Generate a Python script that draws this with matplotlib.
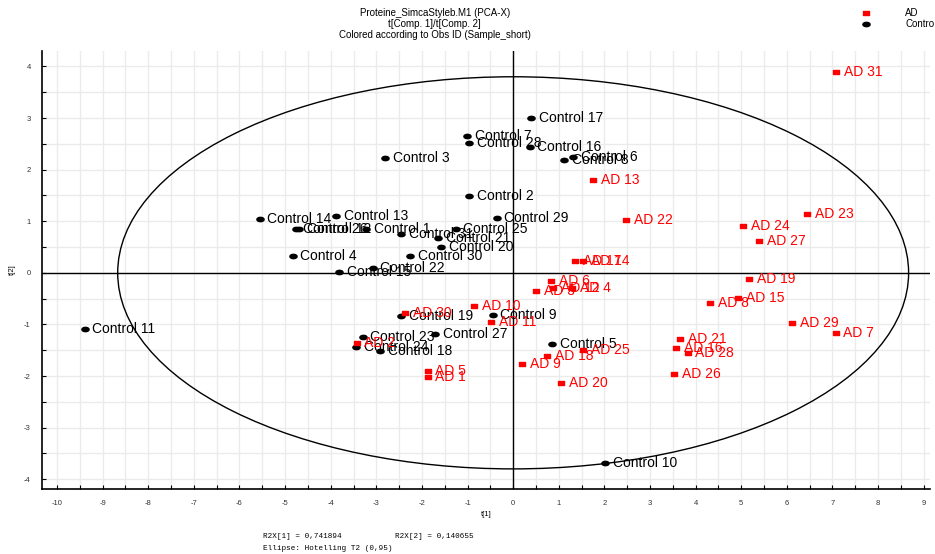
#!/usr/bin/env python3
import numpy as np
import matplotlib as mpl
mpl.use('Agg')
import matplotlib.pyplot as plt
from matplotlib.path import Path
from matplotlib.patches import Ellipse
from matplotlib.ticker import MultipleLocator

# score values t[1], t[2]
ctrl_names = ['Control 17', 'Control 7', 'Control 28', 'Control 16', 'Control 6',
              'Control 8', 'Control 3', 'Control 2', 'Control 29', 'Control 14',
              'Control 13', 'Control 26', 'Control 12', 'Control 1', 'Control 25',
              'Control 31', 'Control 21', 'Control 20', 'Control 4', 'Control 30',
              'Control 22', 'Control 15', 'Control 11', 'Control 19', 'Control 9',
              'Control 27', 'Control 23', 'Control 24', 'Control 18', 'Control 5',
              'Control 10']
ctrl_t1 = [0.39, -1.01, -0.96, 0.36, 1.31, 1.12, -2.81, -0.96, -0.36, -5.56,
           -3.88, -4.77, -4.69, -3.22, -1.26, -2.46, -1.64, -1.58, -4.83, -2.26,
           -3.08, -3.81, -9.39, -2.46, -0.45, -1.71, -3.30, -3.44, -2.92, 0.85,
           2.02]
ctrl_t2 = [3.00, 2.65, 2.51, 2.43, 2.25, 2.18, 2.23, 1.49, 1.07, 1.05,
           1.10, 0.85, 0.85, 0.85, 0.85, 0.76, 0.68, 0.50, 0.33, 0.33,
           0.09, 0.01, -1.09, -0.83, -0.81, -1.18, -1.25, -1.43, -1.51, -1.38,
           -3.68]

ad_names = ['AD 31', 'AD 13', 'AD 22', 'AD 23', 'AD 24', 'AD 27', 'AD 19',
            'AD 15', 'AD 8', 'AD 29', 'AD 7', 'AD 21', 'AD 16', 'AD 28',
            'AD 26', 'AD 18', 'AD 25', 'AD 9', 'AD 20', 'AD 17', 'AD 14',
            'AD 6', 'AD 3', 'AD 12', 'AD 4', 'AD 2', 'AD 10', 'AD 11',
            'AD 30', 'AD 5', 'AD 1']
ad_t1 = [7.08, 1.75, 2.48, 6.44, 5.04, 5.39, 5.18, 4.93, 4.32, 6.12, 7.07,
         3.66, 3.57, 3.83, 3.53, 0.75, 1.54, 0.20, 1.05, 1.36, 1.54, 0.83,
         0.50, 0.88, 1.29, -3.43, -0.86, -0.48, -2.37, -1.87, -1.87]
ad_t2 = [3.90, 1.79, 1.03, 1.14, 0.90, 0.62, -0.11, -0.48, -0.58, -0.97,
         -1.16, -1.29, -1.45, -1.56, -1.96, -1.62, -1.49, -1.77, -2.14, 0.23,
         0.23, -0.15, -0.36, -0.29, -0.29, -1.36, -0.65, -0.96, -0.78, -1.90,
         -2.02]

ell_a, ell_b = 8.67, 3.80

plt.rcParams['font.family'] = ['Liberation Sans', 'DejaVu Sans']
plt.rcParams['axes.unicode_minus'] = False

# flattened ellipse / rectangle markers
th = np.linspace(0, 2 * np.pi, 40)
oval = Path(np.column_stack([np.cos(th), 0.6 * np.sin(th)]))
rect = Path([(-1, -0.7), (1, -0.7), (1, 0.7), (-1, 0.7), (-1, -0.7)],
            [Path.MOVETO, Path.LINETO, Path.LINETO, Path.LINETO, Path.CLOSEPOLY])

fig = plt.figure(figsize=(9.35, 5.54), dpi=100)
ax = fig.add_axes([0.0449, 0.1173, 0.9498, 0.7907])
ax.set_xlim(-10.33, 9.14)
ax.set_ylim(-4.19, 4.30)

ax.xaxis.set_major_locator(MultipleLocator(1))
ax.xaxis.set_minor_locator(MultipleLocator(0.5))
ax.yaxis.set_major_locator(MultipleLocator(1))
ax.yaxis.set_minor_locator(MultipleLocator(0.5))
ax.grid(True, which='both', color='#ebebeb', linewidth=1.0, zorder=0)
ax.set_axisbelow(True)
for s in ['top', 'right']:
    ax.spines[s].set_visible(False)
for s in ['left', 'bottom']:
    ax.spines[s].set_linewidth(1.2)
ax.tick_params(which='both', direction='in', length=3, width=0.8,
               labelsize=5.5, pad=8, labelcolor='#333333')
ax.axhline(0, color='black', linewidth=1.0, zorder=1)
ax.axvline(0, color='black', linewidth=1.0, zorder=1)

ax.add_patch(Ellipse((0, 0), 2 * ell_a, 2 * ell_b, fill=False,
                     edgecolor='black', linewidth=1.0, zorder=2))

ax.plot(ctrl_t1, ctrl_t2, linestyle='none', marker=oval, markersize=5.2,
        color='black', zorder=3)
ax.plot(ad_t1, ad_t2, linestyle='none', marker=rect, markersize=4.6,
        color='red', zorder=3)
for n, x, y in zip(ctrl_names, ctrl_t1, ctrl_t2):
    ax.annotate(n, (x, y), xytext=(5.5, 0), textcoords='offset points',
                va='center', ha='left', fontsize=10, color='black', zorder=4)
for n, x, y in zip(ad_names, ad_t1, ad_t2):
    ax.annotate(n, (x, y), xytext=(5.5, 0), textcoords='offset points',
                va='center', ha='left', fontsize=10, color='red', zorder=4)

ax.set_xlabel('t[1]', fontsize=5.5, labelpad=3)
ax.set_ylabel('t[2]', fontsize=5.5, labelpad=6)

# header
fig.text(0.465, 1 - 13 / 554, 'Proteine_SimcaStyleb.M1 (PCA-X)', ha='center',
         va='center', fontsize=7)
fig.text(0.465, 1 - 24 / 554, 't[Comp. 1]/t[Comp. 2]', ha='center',
         va='center', fontsize=7)
fig.text(0.465, 1 - 35 / 554, 'Colored according to Obs ID (Sample_short)',
         ha='center', va='center', fontsize=7)

# legend
fig.add_artist(plt.Line2D([866 / 935], [1 - 13 / 554], marker=rect,
                          markersize=4.6, color='red', linestyle='none'))
fig.add_artist(plt.Line2D([866 / 935], [1 - 24 / 554], marker=oval,
                          markersize=5.2, color='black', linestyle='none'))
fig.text(905 / 935, 1 - 13 / 554, 'AD', va='center', fontsize=7)
fig.text(905 / 935, 1 - 24 / 554, 'Contro', va='center', fontsize=7)

# footer
mono = ['Liberation Mono', 'DejaVu Sans Mono']
fig.text(263 / 935, 1 - 537 / 554, 'R2X[1] = 0,741894', va='center',
         fontsize=5.5, family=mono)
fig.text(395 / 935, 1 - 537 / 554, 'R2X[2] = 0,140655', va='center',
         fontsize=5.5, family=mono)
fig.text(263 / 935, 1 - 548 / 554, 'Ellipse: Hotelling T2 (0,95)', va='center',
         fontsize=5.5, family=mono)

fig.savefig('out.png', dpi=100)
plt.close(fig)
